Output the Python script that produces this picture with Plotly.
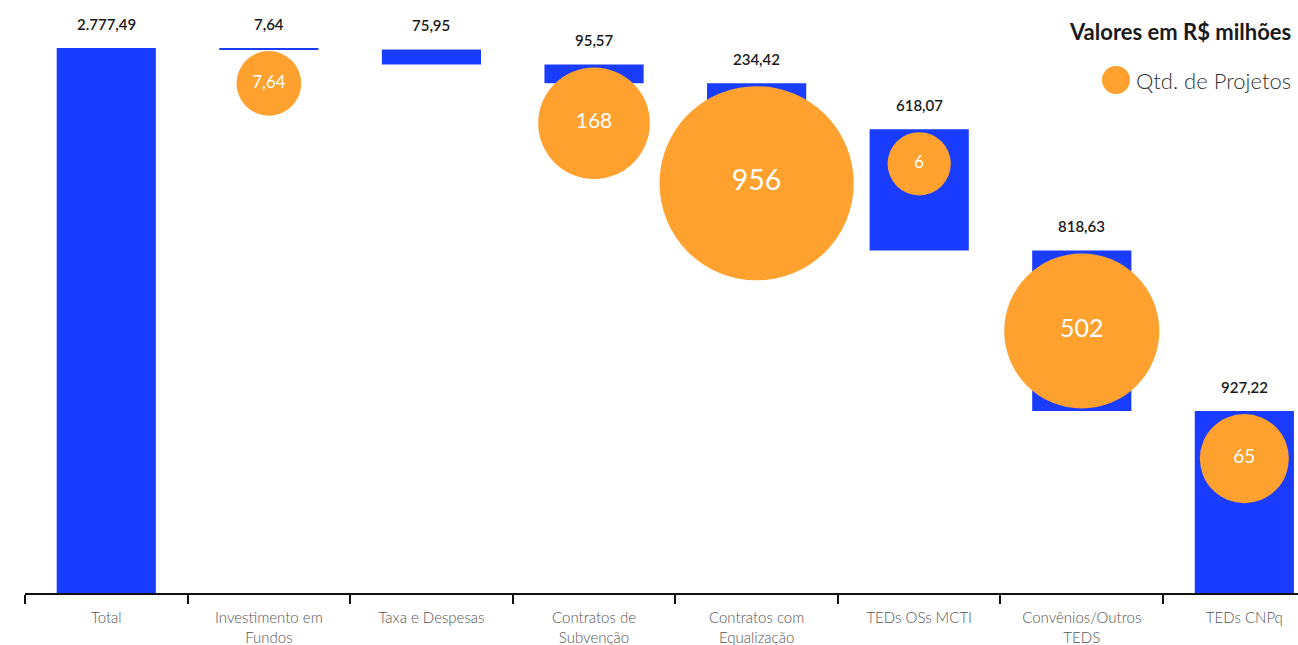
import numpy as np
import plotly.graph_objects as go

# ---------------- data ----------------
categories = ["Total", "Investimento em<br>Fundos", "Taxa e Despesas", "Contratos de<br>Subvenção",
              "Contratos com<br>Equalização", "TEDs OSs MCTI", "Convênios/Outros<br>TEDS", "TEDs CNPq"]
values = [2777.49, 7.64, 75.95, 95.57, 234.42, 618.07, 818.63, 927.22]
projects = [None, 7.64, None, 168, 956, 6, 502, 65]
project_labels = ["", "7,64", "", "168", "956", "6", "502", "65"]

# ---------------- style ----------------
BLUE = "#1A3CFF"
ORANGE = "#FFA12F"
W, H = 1298, 645
M_L, M_R, M_T, M_B = 25, 0, 0, 52
Y_MAX = 3022


def br(v):
    s = f"{v:,.2f}"
    return s.replace(",", "X").replace(".", ",").replace("X", ".")


# waterfall geometry (descending from total)
tops, bases = [], []
remaining = values[0]
for i, v in enumerate(values):
    if i == 0:
        tops.append(v)
        bases.append(0)
    else:
        tops.append(remaining)
        bases.append(remaining - v)
        remaining -= v

xs = list(range(len(categories)))

fig = go.Figure()
fig.add_trace(go.Bar(
    x=xs, y=values, base=bases, marker=dict(color=BLUE, line=dict(width=0)),
    width=0.61, showlegend=False, hoverinfo="skip"))

# bubbles: size scale on sqrt(count), hanging from bar top
ppu = (H - M_T - M_B) / Y_MAX
bx, by, bs, bt, bf = [], [], [], [], []
for i, p in enumerate(projects):
    if p is None:
        continue
    d = 52 + 4.6 * np.sqrt(p)
    bx.append(i)
    by.append(tops[i] - (d / 2 + 3) / ppu)
    bs.append(d)
    bt.append(project_labels[i])
    bf.append(11 + 0.09 * d)

fig.add_trace(go.Scatter(
    x=bx, y=by, mode="markers+text", text=bt, textposition="middle center",
    textfont=dict(color="white", size=bf, family="Lato"),
    marker=dict(size=bs, sizemode="diameter", color=ORANGE, line=dict(width=0), opacity=1),
    showlegend=False, hoverinfo="skip"))

annotations = []
for i, v in enumerate(values):
    annotations.append(dict(x=i, y=tops[i], xref="x", yref="y", text=br(v), showarrow=False,
                            yanchor="bottom", yshift=13,
                            font=dict(family="Lato", size=15, color="#1a1a1a", weight=600)))

annotations.append(dict(x=1, y=1, xref="paper", yref="paper", xanchor="right", yanchor="top",
                        xshift=-5, yshift=-16, text="Valores em R$ milhões", showarrow=False,
                        font=dict(family="Lato", size=22, color="#1a1a1a", weight=700)))
annotations.append(dict(x=1, y=1, xref="paper", yref="paper", xanchor="right", yanchor="middle",
                        xshift=-5, yshift=-80, text="Qtd. de Projetos", showarrow=False,
                        font=dict(family="Lato", size=22, color="#333333", weight=300)))

shapes = [dict(type="circle", xref="paper", yref="paper", xsizemode="pixel", ysizemode="pixel",
               xanchor=1, yanchor=1, x0=-196, x1=-168, y0=-94, y1=-66,
               fillcolor=ORANGE, line=dict(width=0))]

fig.update_layout(
    width=W, height=H,
    margin=dict(l=M_L, r=M_R, t=M_T, b=M_B, autoexpand=False),
    plot_bgcolor="white", paper_bgcolor="white",
    annotations=annotations, shapes=shapes,
    xaxis=dict(tickmode="array", tickvals=xs, ticktext=categories,
               range=[-0.5, 7.33], showgrid=False, zeroline=False,
               showline=True, linecolor="#111111", linewidth=2,
               ticks="", ticklabelstandoff=10, automargin=False,
               tickfont=dict(family="Lato", size=15, color="#555555", weight=300)),
    yaxis=dict(range=[0, Y_MAX], visible=False, showgrid=False, zeroline=False, automargin=False),
)

# boundary tick marks drawn as axis minor ticks
fig.update_xaxes(minor=dict(tickmode="array", tickvals=[i - 0.5 for i in range(len(categories) + 1)],
                            ticks="outside", ticklen=9, tickwidth=2, tickcolor="#111111"))

fig.write_html("out.html", config={"displayModeBar": False},
               post_script="document.body.style.margin='0';document.body.style.overflow='hidden';")
